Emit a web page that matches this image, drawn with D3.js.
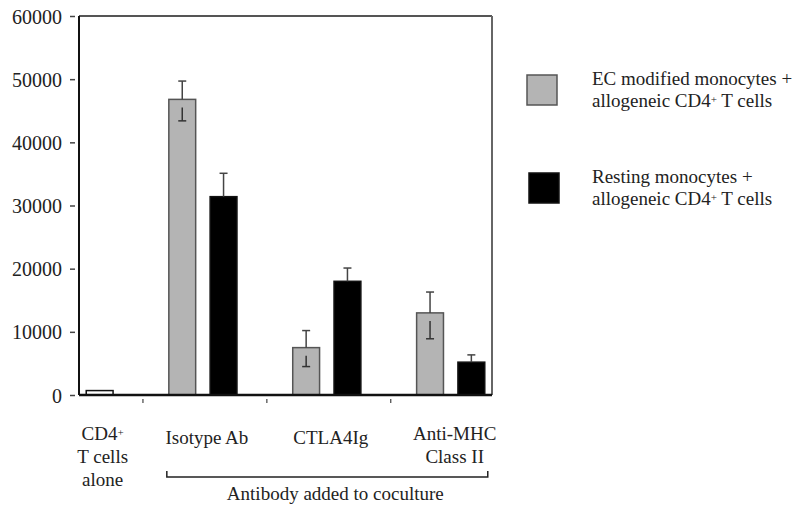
<!DOCTYPE html>
<html>
<head>
<meta charset="utf-8">
<script src="https://cdn.jsdelivr.net/npm/d3@7"></script>
<style>
  body { margin: 0; background: #fff; }
  text { font-family: "Liberation Serif", "Times New Roman", serif; fill: #222; }
</style>
</head>
<body>
<svg id="chart" width="798" height="508"></svg>
<script>
// values (cpm)
const categories = ["CD4^+|T cells|alone", "Isotype Ab", "CTLA4Ig", "Anti-MHC|Class II"]
const aloneValues = [700, null, null, null]
const ecValues = [null, 46800, 7500, 13000]
const ecErrUp = [null, 2900, 2700, 3300]
const ecErrDown = [null, 3400, 3000, 4100]
const restingValues = [null, 31400, 18000, 5200]
const restingErrUp = [null, 3700, 2100, 1150]
const yTicks = [0, 10000, 20000, 30000, 40000, 50000, 60000]
const seriesNames = ["EC modified monocytes +|allogeneic CD4^+ T cells", "Resting monocytes +|allogeneic CD4^+ T cells"]
const groupTitle = "Antibody added to coculture"

var margin = { top: 16, right: 306, bottom: 113, left: 79 },
  width = 798 - margin.left - margin.right,
  height = 508 - margin.top - margin.bottom

var svg = d3.select("#chart")
var g = svg.append("g")
  .attr("transform", "translate(" + margin.left + "," + margin.top + ")")

// one slot per bar, an empty slot between groups
function slotsFor(i) {
  return i === 0 ? { alone: 0 } : { ec: 3 * i - 1, resting: 3 * i }
}

var x = d3.scaleBand()
  .domain(d3.range(10))
  .range([0, width])
  .paddingInner(0.35)
  .paddingOuter(0.175)

var y = d3.scaleLinear()
  .domain([0, 60000])
  .range([height, 0])

// rich text with ^+ superscripts
function addRich(sel, str) {
  var parts = str.split("^+")
  parts.forEach(function(p, k) {
    sel.append("tspan").text(p)
    if (k < parts.length - 1) {
      sel.append("tspan").attr("baseline-shift", "38%").attr("font-size", "11px").text("+")
    }
  })
}

// bars
var bars = []
categories.forEach(function(c, i) {
  var s = slotsFor(i)
  if (aloneValues[i] != null) bars.push({ slot: s.alone, v: aloneValues[i], kind: "alone" })
  if (ecValues[i] != null) bars.push({ slot: s.ec, v: ecValues[i], up: ecErrUp[i], down: ecErrDown[i], kind: "ec" })
  if (restingValues[i] != null) bars.push({ slot: s.resting, v: restingValues[i], up: restingErrUp[i], kind: "resting" })
})

var fills = { alone: "#fff", ec: "#b4b4b4", resting: "#000" }
var strokes = { alone: "#111", ec: "#555", resting: "#111" }

g.selectAll("rect.bar")
  .data(bars).enter().append("rect")
  .attr("class", "bar")
  .attr("x", d => x(d.slot))
  .attr("y", d => y(d.v))
  .attr("width", x.bandwidth())
  .attr("height", d => height - y(d.v))
  .attr("fill", d => fills[d.kind])
  .attr("stroke", d => strokes[d.kind])
  .attr("stroke-width", 1.5)

// error bars
var errs = bars.filter(d => d.up != null)
var cap = 4
errs.forEach(function(d) {
  var cx = x(d.slot) + x.bandwidth() / 2
  g.append("line").attr("x1", cx).attr("x2", cx)
    .attr("y1", y(d.v)).attr("y2", y(d.v + d.up))
    .attr("stroke", "#444").attr("stroke-width", 1.5)
  g.append("line").attr("x1", cx - cap).attr("x2", cx + cap)
    .attr("y1", y(d.v + d.up)).attr("y2", y(d.v + d.up))
    .attr("stroke", "#444").attr("stroke-width", 1.5)
  if (d.down != null) {
    g.append("line").attr("x1", cx).attr("x2", cx)
      .attr("y1", y(d.v) + 8).attr("y2", y(d.v - d.down))
      .attr("stroke", "#333").attr("stroke-width", 1.5)
    g.append("line").attr("x1", cx - cap).attr("x2", cx + cap)
      .attr("y1", y(d.v - d.down)).attr("y2", y(d.v - d.down))
      .attr("stroke", "#333").attr("stroke-width", 1.5)
  }
})

// frame
g.append("line").attr("x1", 0).attr("x2", width).attr("y1", 0).attr("y2", 0)
  .attr("stroke", "#555").attr("stroke-width", 2)
g.append("line").attr("x1", width).attr("x2", width).attr("y1", 0).attr("y2", height)
  .attr("stroke", "#666").attr("stroke-width", 2)
g.append("line").attr("x1", 0).attr("x2", 0).attr("y1", 0).attr("y2", height)
  .attr("stroke", "#111").attr("stroke-width", 2)
g.append("line").attr("x1", 0).attr("x2", width).attr("y1", height).attr("y2", height)
  .attr("stroke", "#111").attr("stroke-width", 2.5)

// y axis: detached ticks
var yAxis = g.append("g")
  .attr("transform", "translate(-4,0)")
  .call(d3.axisLeft(y).tickValues(yTicks).tickSize(5).tickPadding(8).tickFormat(d3.format("d")))
yAxis.select(".domain").remove()
yAxis.selectAll(".tick line").attr("stroke", "#444").attr("stroke-width", 1.5)
yAxis.selectAll(".tick text").attr("font-size", "20px").attr("fill", "#222")
  .attr("font-family", "Liberation Serif").attr("dy", "0.35em")

// x ticks between groups
var sepSlots = [1, 4, 7]
g.selectAll("line.sep")
  .data(sepSlots).enter().append("line")
  .attr("class", "sep")
  .attr("x1", d => x(d) + x.bandwidth() / 2 + 2)
  .attr("x2", d => x(d) + x.bandwidth() / 2 + 2)
  .attr("y1", height + 4).attr("y2", height + 8)
  .attr("stroke", "#444").attr("stroke-width", 1.2)

// category labels
categories.forEach(function(c, i) {
  var s = slotsFor(i)
  var cx = i === 0 ? x(s.alone) + x.bandwidth() / 2 + 3
    : (x(s.ec) + x(s.resting) + x.bandwidth()) / 2 + 4
  var lines = c.split("|")
  lines.forEach(function(l, k) {
    var t = g.append("text")
      .attr("x", cx)
      .attr("y", height + 45 + (lines.length === 1 ? 4 : 0) + k * 23)
      .attr("text-anchor", "middle")
      .attr("font-size", "19px")
    addRich(t, l)
  })
})

// bracket under the antibody groups
var bx0 = x(slotsFor(1).ec) - 2,
  bx1 = x(slotsFor(3).resting) + x.bandwidth() + 3,
  by = height + 82
g.append("path")
  .attr("d", "M" + bx0 + "," + (by - 6) + "V" + by + "H" + bx1 + "V" + (by - 6))
  .attr("fill", "none").attr("stroke", "#222").attr("stroke-width", 1.5)
g.append("text")
  .attr("x", (bx0 + bx1) / 2 + 8)
  .attr("y", by + 23)
  .attr("text-anchor", "middle")
  .attr("font-size", "19px")
  .text(groupTitle)

// legend
var legend = svg.append("g").attr("transform", "translate(527,75)")
var legendFills = ["#b4b4b4", "#000"]
var legendStrokes = ["#555", "#111"]
seriesNames.forEach(function(name, i) {
  var row = legend.append("g").attr("transform", "translate(" + (i * 2) + "," + (i * 98) + ")")
  row.append("rect")
    .attr("width", 30).attr("height", 30)
    .attr("fill", legendFills[i]).attr("stroke", legendStrokes[i]).attr("stroke-width", 1.5)
  name.split("|").forEach(function(l, k) {
    var t = row.append("text")
      .attr("x", 65 - i * 2)
      .attr("y", 10 + k * 22)
      .attr("font-size", "19px")
    addRich(t, l)
  })
})
</script>
</body>
</html>
